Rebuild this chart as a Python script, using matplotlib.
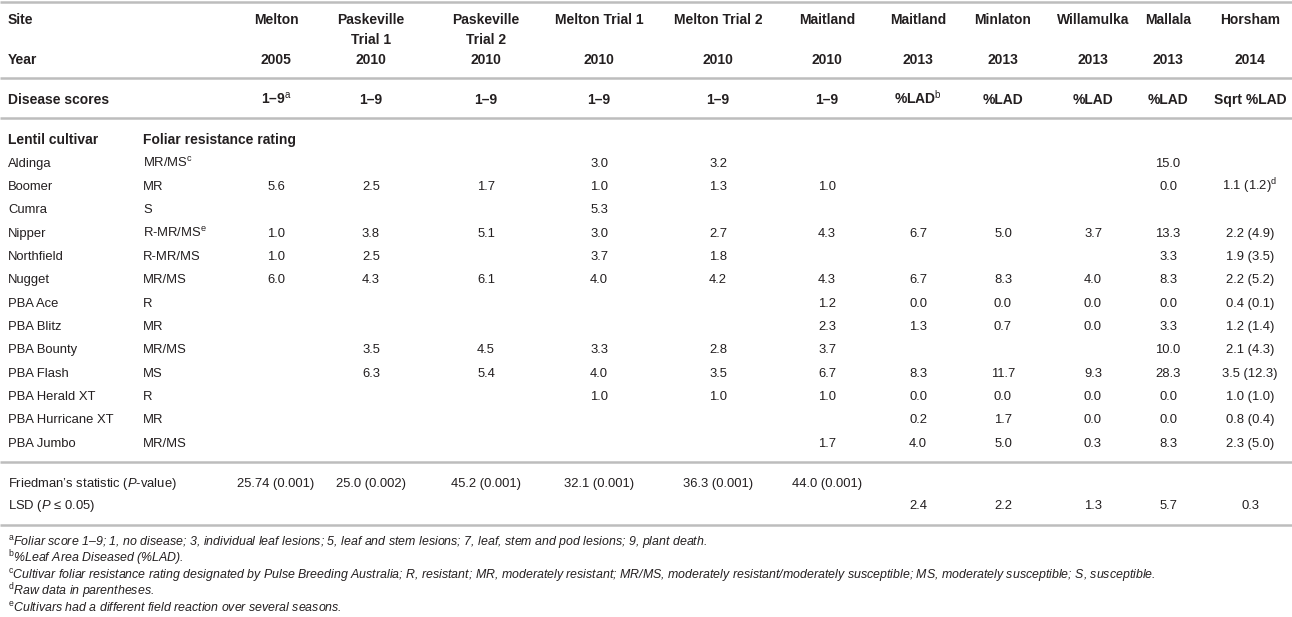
import matplotlib
matplotlib.use("Agg")
import matplotlib.pyplot as plt
from matplotlib import font_manager

names = {f.name for f in font_manager.fontManager.ttflist}
FAM = "Liberation Sans Narrow" if "Liberation Sans Narrow" in names else "Liberation Sans"
plt.rcParams["font.family"] = [FAM, "DejaVu Sans"]
plt.rcParams["mathtext.fontset"] = "custom"
plt.rcParams["mathtext.rm"] = FAM
plt.rcParams["mathtext.it"] = FAM + ":italic"
plt.rcParams["mathtext.bf"] = FAM + ":bold"

# ---------------- data ----------------
sites = ["Melton", "Paskeville\nTrial 1", "Paskeville\nTrial 2", "Melton Trial 1",
         "Melton Trial 2", "Maitland", "Maitland", "Minlaton", "Willamulka",
         "Mallala", "Horsham"]
years = ["2005", "2010", "2010", "2010", "2010", "2010", "2013", "2013", "2013",
         "2013", "2014"]
score_types = [r"1–9$^{\mathrm{a}}$", "1–9", "1–9", "1–9", "1–9", "1–9",
               r"%LAD$^{\mathrm{b}}$", "%LAD", "%LAD", "%LAD", "Sqrt %LAD"]

cultivars = ["Aldinga", "Boomer", "Cumra", "Nipper", "Northfield", "Nugget",
             "PBA Ace", "PBA Blitz", "PBA Bounty", "PBA Flash", "PBA Herald XT",
             "PBA Hurricane XT", "PBA Jumbo"]
ratings = [r"MR/MS$^{\mathrm{c}}$", "MR", "S", r"R-MR/MS$^{\mathrm{e}}$", "R-MR/MS",
           "MR/MS", "R", "MR", "MR/MS", "MS", "R", "MR", "MR/MS"]

N = None
melton_2005 = [N, 5.6, N, 1.0, 1.0, 6.0, N, N, N, N, N, N, N]
paskeville_t1 = [N, 2.5, N, 3.8, 2.5, 4.3, N, N, 3.5, 6.3, N, N, N]
paskeville_t2 = [N, 1.7, N, 5.1, N, 6.1, N, N, 4.5, 5.4, N, N, N]
melton_t1 = [3.0, 1.0, 5.3, 3.0, 3.7, 4.0, N, N, 3.3, 4.0, 1.0, N, N]
melton_t2 = [3.2, 1.3, N, 2.7, 1.8, 4.2, N, N, 2.8, 3.5, 1.0, N, N]
maitland_2010 = [N, 1.0, N, 4.3, N, 4.3, 1.2, 2.3, 3.7, 6.7, 1.0, N, 1.7]
maitland_2013 = [N, N, N, 6.7, N, 6.7, 0.0, 1.3, N, 8.3, 0.0, 0.2, 4.0]
minlaton_2013 = [N, N, N, 5.0, N, 8.3, 0.0, 0.7, N, 11.7, 0.0, 1.7, 5.0]
willamulka_2013 = [N, N, N, 3.7, N, 4.0, 0.0, 0.0, N, 9.3, 0.0, 0.0, 0.3]
mallala_2013 = [15.0, 0.0, N, 13.3, 3.3, 8.3, 0.0, 3.3, 10.0, 28.3, 0.0, 0.0, 8.3]
horsham_sqrt = [N, 1.1, N, 2.2, 1.9, 2.2, 0.4, 1.2, 2.1, 3.5, 1.0, 0.8, 2.3]
horsham_raw = [N, 1.2, N, 4.9, 3.5, 5.2, 0.1, 1.4, 4.3, 12.3, 1.0, 0.4, 5.0]

friedman = ["25.74 (0.001)", "25.0 (0.002)", "45.2 (0.001)", "32.1 (0.001)",
            "36.3 (0.001)", "44.0 (0.001)", "", "", "", "", ""]
lsd = ["", "", "", "", "", "", "2.4", "2.2", "1.3", "5.7", "0.3"]

footnotes = [
    ("a", "Foliar score 1–9; 1, no disease; 3, individual leaf lesions; 5, leaf and stem lesions; 7, leaf, stem and pod lesions; 9, plant death."),
    ("b", "%Leaf Area Diseased (%LAD)."),
    ("c", "Cultivar foliar resistance rating designated by Pulse Breeding Australia; R, resistant; MR, moderately resistant; MR/MS, moderately resistant/moderately susceptible; MS, moderately susceptible; S, susceptible."),
    ("d", "Raw data in parentheses."),
    ("e", "Cultivars had a different field reaction over several seasons."),
]

# ---------------- layout ----------------
W, H = 1292, 617
fig = plt.figure(figsize=(W / 100, H / 100), dpi=100)
ax = fig.add_axes([0, 0, 1, 1])
ax.set_xlim(0, W)
ax.set_ylim(H, 0)
ax.axis("off")

FS = 9.4
FS_B = 10.0
FS_FOOT = 8.9
TXT = "#231f20"
LINE = "#bdbdbd"


def put(x, yc, s, size, **kw):
    """Place text so that its cap-height centre sits at yc (pixel coords)."""
    ax.text(x, yc + 0.365 * size * 100 / 72, s, fontsize=size, color=TXT,
            va="baseline", **kw)


col_x = [276, 371, 486, 599, 718, 827, 918, 1003, 1093, 1168, 1250]
x_label = 8
x_rating = 143

for y in [1.5, 78, 118, 462, 525]:
    ax.plot([0, W], [y, y], color=LINE, lw=1.8, solid_capstyle="butt")

# header
put(x_label, 19, "Site", FS_B, fontweight="bold")
put(x_label, 59, "Year", FS_B, fontweight="bold")
put(x_label, 99, "Disease scores", FS_B, fontweight="bold")
for x, s, yr, sc in zip(col_x, sites, years, score_types):
    for k, line in enumerate(s.split("\n")):
        put(x, 19 + 19.5 * k, line, FS_B, fontweight="bold", ha="center")
    put(x, 59, yr, FS_B, fontweight="bold", ha="center")
    put(x, 99, sc, FS_B, fontweight="bold", ha="center")

put(x_label, 139, "Lentil cultivar", FS_B, fontweight="bold")
put(x_rating, 139, "Foliar resistance rating", FS_B, fontweight="bold")

columns = [melton_2005, paskeville_t1, paskeville_t2, melton_t1, melton_t2,
           maitland_2010, maitland_2013, minlaton_2013, willamulka_2013, mallala_2013]

y0, dy = 162, 23.33
for i, (cv, rt) in enumerate(zip(cultivars, ratings)):
    y = y0 + dy * i
    put(x_label, y, cv, FS)
    put(x_rating, y, rt, FS)
    for x, col in zip(col_x, columns):
        v = col[i]
        if v is not None:
            put(x, y, f"{v:.1f}", FS, ha="center")
    if horsham_sqrt[i] is not None:
        s = f"{horsham_sqrt[i]:.1f} ({horsham_raw[i]:.1f})"
        if cv == "Boomer":
            s += r"$^{\mathrm{d}}$"
        put(col_x[-1], y, s, FS, ha="center")

put(x_label, 482, r"Friedman’s statistic ($\mathit{P}$-value)", FS)
put(x_label, 504, r"LSD ($\mathit{P}$ ≤ 0.05)", FS)
for x, f, l in zip(col_x, friedman, lsd):
    if f:
        put(x, 482, f, FS, ha="center")
    if l:
        put(x, 504, l, FS, ha="center")

fy0, fdy = 541, 16.7
for j, (letter, note) in enumerate(footnotes):
    put(x_label, fy0 + fdy * j, r"$^{\mathrm{" + letter + r"}}$" + note,
        FS_FOOT, fontstyle="italic")

fig.savefig("out.png", dpi=100)
